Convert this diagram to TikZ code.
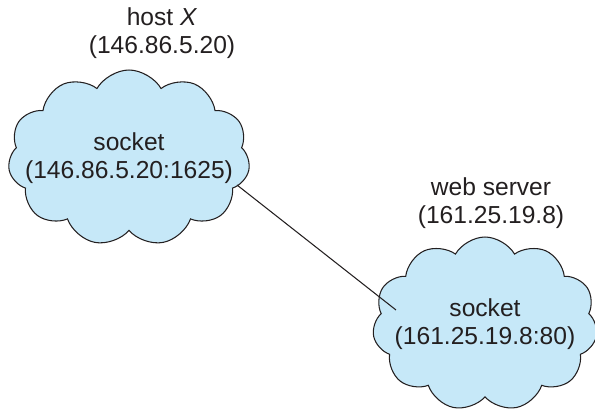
\documentclass[tikz,border=0pt]{standalone}
\usepackage{fontspec}
\setmainfont{Liberation Sans}
\usepackage{xcolor}
\usetikzlibrary{shapes.symbols, positioning, calc}

\definecolor{cloudblue}{RGB}{198,232,248}
\definecolor{inkgray}{RGB}{35,31,32}

\begin{document}
\begin{tikzpicture}[
    x=0.02cm, y=0.02cm,
    sock/.style={cloud, cloud puffs=11, cloud puff arc=120, cloud ignores aspect, draw=inkgray, fill=cloudblue, line width=0.6pt, inner sep=0pt},
    lbl/.style={align=center, text=inkgray, font=\fontsize{14}{16}\selectfont},
    link/.style={draw=inkgray, line width=0.6pt}
]
    \useasboundingbox (0,0) rectangle (595,411);

    % Clouds
    \node[sock, minimum width=4.84cm, minimum height=3.52cm, label={[lbl]center:socket\\(146.86.5.20:1625)}] (hostcloud) at (129,253) {};
    \node[sock, minimum width=4.5cm, minimum height=3.48cm, label={[lbl]center:socket\\(161.25.19.8:80)}] (webcloud) at (485,87) {};

    % Labels
    \node[lbl] (hostlbl) at (162,378) {host \textit{X}\\(146.86.5.20)};
    \node[lbl] (weblbl) at (491,208) {web server\\(161.25.19.8)};

    % Connection
    \coordinate (hostend) at ($(hostcloud.center)+(108,-27)$);
    \coordinate (webend) at ($(webcloud.center)+(-89,14)$);
    \draw[link] (hostend) -- (webend);
\end{tikzpicture}
\end{document}
